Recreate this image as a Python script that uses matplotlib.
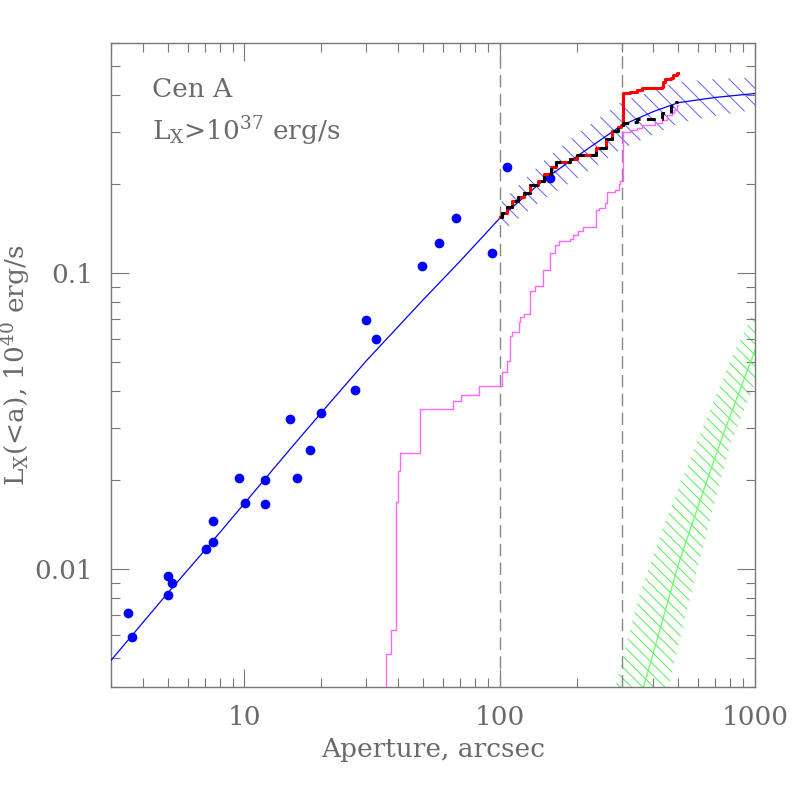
import matplotlib
matplotlib.use("Agg")
import matplotlib.pyplot as plt
from matplotlib.ticker import LogLocator, NullFormatter, FixedLocator, FixedFormatter

plt.rcParams['font.family'] = ['DejaVu Serif']
plt.rcParams['mathtext.default'] = 'regular'
plt.rcParams['hatch.linewidth'] = 0.7

# --- data ---
pts_x = [3.51, 3.61, 5.02, 5.22, 5.02, 7.04, 7.54, 7.54, 9.56, 10.06, 12.0, 12.0,
         15.05, 16.08, 18.03, 20.03, 27.04, 30.06, 32.9, 49.4, 58.0, 67.1, 93.6, 107, 158]
pts_y = [0.00712, 0.0059, 0.00947, 0.00895, 0.00817, 0.01168, 0.01234, 0.01457, 0.0203,
         0.0167, 0.01995, 0.0166, 0.0322, 0.0203, 0.02535, 0.0337, 0.0402, 0.0695, 0.0599,
         0.1058, 0.1266, 0.1538, 0.117, 0.228, 0.21]

model_x = [3, 5, 7, 10, 15, 20, 30, 50, 70, 100, 150, 200, 300, 400, 500, 700, 1000]
model_y = [0.00492, 0.0083, 0.0116, 0.0167, 0.0253, 0.0338, 0.0506, 0.0812, 0.110,
           0.1535, 0.208, 0.248, 0.316, 0.352, 0.377, 0.393, 0.405]

band_x = [100, 150, 200, 300, 500, 700, 1000]
band_lo = [0.1368, 0.1791, 0.2087, 0.2628, 0.3209, 0.3407, 0.3568]
band_hi = [0.1722, 0.2416, 0.2947, 0.3799, 0.4429, 0.4533, 0.4597]

mag_x = [30, 35.9, 37.4, 39.3, 39.8, 40.5, 48.5, 65.5, 70.8, 83.1, 102, 107, 109.4, 111.8,
         118.7, 120.5, 124.2, 131.1, 138, 147.9, 158, 164.2, 170.3, 189.2, 194, 202.2, 212.2,
         239.2, 244.2, 257.8, 263.4, 283.9, 292.5, 297, 305, 325, 345, 361, 407, 433, 453,
         473, 480, 495, 500]
mag_y = [0.003, 0.00519, 0.00622, 0.01689, 0.02145, 0.02462, 0.0347, 0.0371, 0.0388, 0.0416,
         0.0463, 0.0506, 0.0615, 0.0632, 0.0686, 0.0713, 0.0729, 0.0873, 0.0906, 0.1026,
         0.1169, 0.1247, 0.1286, 0.1306, 0.1347, 0.1393, 0.1437, 0.1637, 0.1666, 0.1725,
         0.1888, 0.1913, 0.2004, 0.2057, 0.3011, 0.3051, 0.3092, 0.3172, 0.3214, 0.3298,
         0.3429, 0.3475, 0.3566, 0.3707, 0.3707]

stair_x = [100, 102.5, 107.2, 112.1, 118.4, 125.0, 131.9, 141.8, 149.7, 159.4, 166.8,
           189.2, 201.6, 239.2, 261.8, 276.3, 291.7, 298]
stair_y = [0.155, 0.160, 0.1676, 0.1756, 0.1811, 0.1869, 0.1989, 0.2052, 0.2167, 0.2289,
           0.2380, 0.2436, 0.2513, 0.2653, 0.2846, 0.3027, 0.3123, 0.3171]
red_x = [303, 325, 345, 361, 433, 438, 446, 470, 479, 495, 500]
red_y = [0.407, 0.411, 0.417, 0.423, 0.4276, 0.4446, 0.4529, 0.4567, 0.4683, 0.4747, 0.4747]
blk_x = [303, 325, 345, 433, 470, 492, 500]
blk_y = [0.322, 0.325, 0.332, 0.348, 0.368, 0.380, 0.380]

green_x = [280, 300, 350, 400, 450, 500, 600, 700, 800, 1000]
green_lo = [0.0008, 0.001, 0.0015, 0.0024, 0.00371, 0.00551, 0.01033, 0.01716, 0.02641, 0.04246]
green_hi = [0.00382, 0.00481, 0.00804, 0.01121, 0.01488, 0.01864, 0.02773, 0.03835, 0.05083, 0.0751]
gline_x = [330, 366, 502, 649, 754, 1000]
gline_y = [0.0029, 0.0040, 0.01045, 0.0200, 0.0288, 0.055]

vlines_x = [100, 300]

xticks = [10, 100, 1000]
xticklabels = ['10', '100', '1000']
yticks = [0.01, 0.1]
yticklabels = ['0.01', '0.1']

gray = '#6a6a6a'
fs = 19

fig = plt.figure(figsize=(7.97, 7.97), dpi=100)
ax = fig.add_axes([111/797, 110/797, 644/797, 644/797])
ax.set_xscale('log')
ax.set_yscale('log')
ax.set_xlim(3, 1000)
ax.set_ylim(0.004, 0.6)

# bands
ax.fill_between(band_x, band_lo, band_hi, facecolor='none', edgecolor='#6060ff',
                hatch='\\\\', linewidth=0, zorder=1)
ax.fill_between(green_x, green_lo, green_hi, facecolor='none', edgecolor='#55ee55',
                hatch='\\\\\\', linewidth=0, zorder=1)
ax.plot(gline_x, gline_y, color='#66ff66', lw=0.9, zorder=2)

for xv in vlines_x:
    ax.axvline(xv, color='#888888', lw=1.0, linestyle=(0, (9, 4.5)), zorder=2)

ax.step(mag_x, mag_y, where='post', color='#ff66ff', lw=1.0, zorder=3)
ax.plot(model_x, model_y, color='#0000ff', lw=0.9, zorder=4)
ax.plot(pts_x, pts_y, 'o', color='#0000ff', ms=7, mec='none', zorder=5)

ax.step(stair_x + red_x, stair_y + red_y, where='post', color='#ff0000', lw=2.2, zorder=6)
ax.step(stair_x + blk_x, stair_y + blk_y, where='post', color='black', lw=2.2,
        linestyle=(0, (2.9, 2.1)), zorder=7)

# axes styling
for s in ax.spines.values():
    s.set_color('#777777')
    s.set_linewidth(1.0)
ax.xaxis.set_major_locator(FixedLocator(xticks))
ax.xaxis.set_major_formatter(FixedFormatter(xticklabels))
ax.xaxis.set_minor_locator(LogLocator(base=10, subs=range(2, 10)))
ax.xaxis.set_minor_formatter(NullFormatter())
ax.yaxis.set_major_locator(FixedLocator(yticks))
ax.yaxis.set_major_formatter(FixedFormatter(yticklabels))
ax.yaxis.set_minor_locator(LogLocator(base=10, subs=range(2, 10)))
ax.yaxis.set_minor_formatter(NullFormatter())
ax.tick_params(which='both', direction='in', top=True, right=True, color='#777777',
               width=0.8, labelcolor=gray, labelsize=fs, pad=13)
ax.tick_params(which='major', length=13)
ax.tick_params(which='minor', length=6.5)

ax.set_xlabel('Aperture, arcsec', fontsize=fs, color=gray, labelpad=5)
ax.set_ylabel('L$_X$(<a), 10$^{40}$ erg/s', fontsize=fs, color=gray)
ax.yaxis.set_label_coords(-0.122, 0.5)

ax.text(0.063, 0.9166, 'Cen A', transform=ax.transAxes, fontsize=fs, color=gray,
        ha='left', va='baseline')
ax.text(0.063, 0.849, 'L$_X$>10$^{37}$ erg/s', transform=ax.transAxes, fontsize=fs,
        color=gray, ha='left', va='baseline')

fig.savefig('out.png', dpi=100)
